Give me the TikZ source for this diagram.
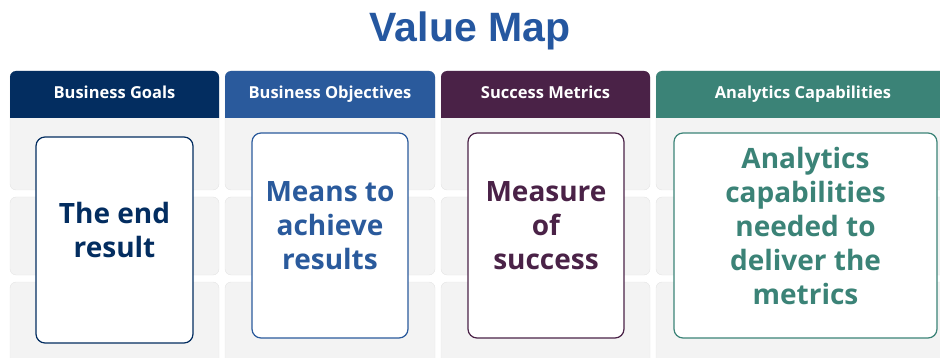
\documentclass[tikz,border=0pt]{standalone}
\usepackage{fontspec}
\setmainfont{Open Sans}
\newfontfamily\titlefont{Liberation Sans}
\usetikzlibrary{positioning}
\definecolor{navy}{HTML}{032D60}
\definecolor{mblue}{HTML}{2A5A9C}
\definecolor{plum}{HTML}{4A2247}
\definecolor{mteal}{HTML}{3B8377}
\definecolor{cellgrey}{HTML}{F3F3F3}
\definecolor{cellline}{HTML}{E4E4E4}
\definecolor{titleblue}{HTML}{2557A0}
\tikzset{cell/.style = {fill=cellgrey, draw=cellline, rounded corners=6pt},
         head/.style = {text=white, text height=12pt, text depth=3.5pt, font=\fontsize{16.5}{18}\selectfont\bfseries},
         card/.style = {draw=#1, fill=white, rounded corners=9pt, line width=1.2pt, inner sep=0pt},
         cardtext/.style = {text=#1, align=center, font=\fontsize{28}{34}\selectfont\bfseries}}

\begin{document}
\begin{tikzpicture}[x=1pt, y=-1pt]
    \useasboundingbox (0, 0) rectangle (940, 358);

    \node [font=\titlefont\fontsize{41}{48}\selectfont\bfseries, text=titleblue] (title) at (470, 31) {Value Map};

    % columns: grey cells and coloured heads
    \foreach \xa/\xb/\col/\name/\lbl in {10/219/navy/goals/Business Goals,
                                         225/435/mblue/objectives/Business Objectives,
                                         441/650/plum/metrics/Success Metrics,
                                         656/950/mteal/capabilities/Analytics Capabilities} {
        \draw [cell] (\xa, 71) rectangle (\xb, 190);
        \draw [cell] (\xa, 197) rectangle (\xb, 275);
        \draw [cell] (\xa, 282) rectangle (\xb, 372);
        \begin{scope}
            \clip (\xa, 71) rectangle (\xb, 118);
            \fill [\col, rounded corners=6pt] (\xa, 71) rectangle (\xb, 130);
        \end{scope}
        \node [head] (\name) at ({(\xa + \xb)/2}, 94) {\lbl};
    }

    \node [card=navy, minimum width=157, minimum height=206] (goalcard) at (114.5, 240) {};
    \node [card=mblue, minimum width=156, minimum height=205] (objcard) at (330, 235.5) {};
    \node [card=plum, minimum width=156, minimum height=205] (metcard) at (546, 235.5) {};
    \node [card=mteal, minimum width=263, minimum height=205] (capcard) at (805.5, 235.5) {};

    \node [cardtext=navy] (goaltext) at ([yshift=10pt]goalcard.center) {The end\\result};
    \node [cardtext=mblue] (objtext) at ([yshift=9.5pt]objcard.center) {Means to\\achieve\\results};
    \node [cardtext=plum] (mettext) at ([yshift=9.5pt]metcard.center) {Measure\\of\\success};
    \node [cardtext=mteal] (captext) at ([yshift=9.5pt]capcard.center) {Analytics\\capabilities\\needed to\\deliver the\\metrics};
\end{tikzpicture}
\end{document}
